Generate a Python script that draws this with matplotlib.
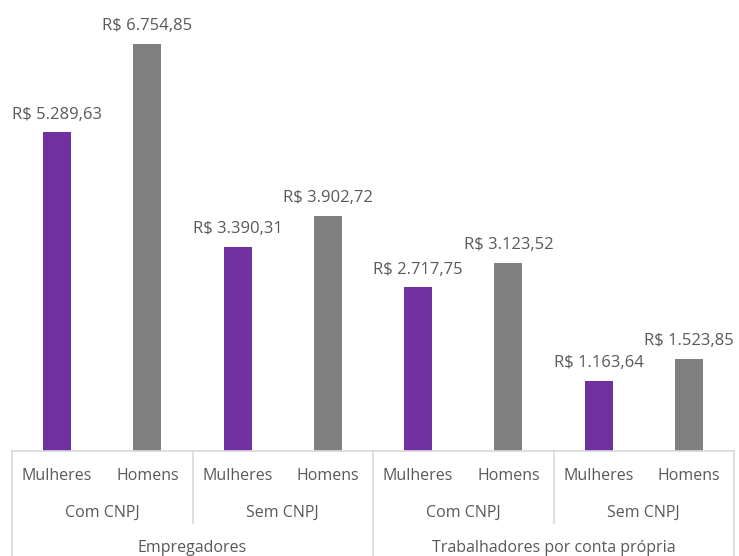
#!/usr/bin/env python3
"""Rendimento médio por sexo, posição e CNPJ."""

import matplotlib
matplotlib.use('Agg')
import matplotlib.pyplot as plt
from matplotlib.lines import Line2D

# Data
sexo = ['Mulheres', 'Homens'] * 4
cnpj = ['Com CNPJ', 'Sem CNPJ', 'Com CNPJ', 'Sem CNPJ']
posicao = ['Empregadores', 'Trabalhadores por conta própria']
valores = [5289.63, 6754.85, 3390.31, 3902.72, 2717.75, 3123.52, 1163.64, 1523.85]

C_MULHER = '#7030A0'
C_HOMEM = '#808080'
C_TEXT = '#595959'
C_LINE = '#D9D9D9'

plt.rcParams['font.family'] = ['Open Sans', 'DejaVu Sans']

W, H = 739, 556
fig = plt.figure(figsize=(W / 100, H / 100), dpi=100)
fig.patch.set_facecolor('white')

x0, x1, base = 12, 734, 451
ax = fig.add_axes([x0 / W, (H - base) / H, (x1 - x0) / W, base / H])
ax.set_xlim(-0.5, len(valores) - 0.5)
ax.set_ylim(0, 7485)
ax.axis('off')

cores = [C_MULHER if s == 'Mulheres' else C_HOMEM for s in sexo]
x = list(range(len(valores)))
bars = ax.bar(x, valores, 0.31, color=cores)

def brl(v):
    s = f'{v:,.2f}'.replace(',', 'X').replace('.', ',').replace('X', '.')
    return f'R$ {s}'

for b, v in zip(bars, valores):
    ax.annotate(brl(v), (b.get_x() + b.get_width() / 2, v), xytext=(0, 7),
                textcoords='offset points', ha='center', va='bottom',
                fontsize=12, color=C_TEXT)

# Multi-level category axis (pixel coords -> figure fraction)
def fx(px):
    return px / W

def fy(py):
    return 1 - py / H

cell = (x1 - x0) / len(valores)

def line(xa, ya, xb, yb):
    fig.add_artist(Line2D([fx(xa), fx(xb)], [fy(ya), fy(yb)], color=C_LINE, lw=1.2))

line(x0, base, x1, base)
for k in range(0, len(valores) + 1, 2):
    px = x0 + k * cell
    yb = H if k % 4 == 0 else 523
    line(px, base, px, yb)

for i, s in enumerate(sexo):
    fig.text(fx(x0 + (i + 0.5) * cell), fy(476), s, ha='center', va='center',
             fontsize=11.5, color=C_TEXT)
for i, c in enumerate(cnpj):
    fig.text(fx(x0 + (2 * i + 1) * cell), fy(513), c, ha='center', va='center',
             fontsize=11.5, color=C_TEXT)
for i, p in enumerate(posicao):
    fig.text(fx(x0 + (4 * i + 2) * cell), fy(548), p, ha='center', va='center',
             fontsize=11.5, color=C_TEXT)

fig.savefig('out.png', dpi=100)
plt.close()
